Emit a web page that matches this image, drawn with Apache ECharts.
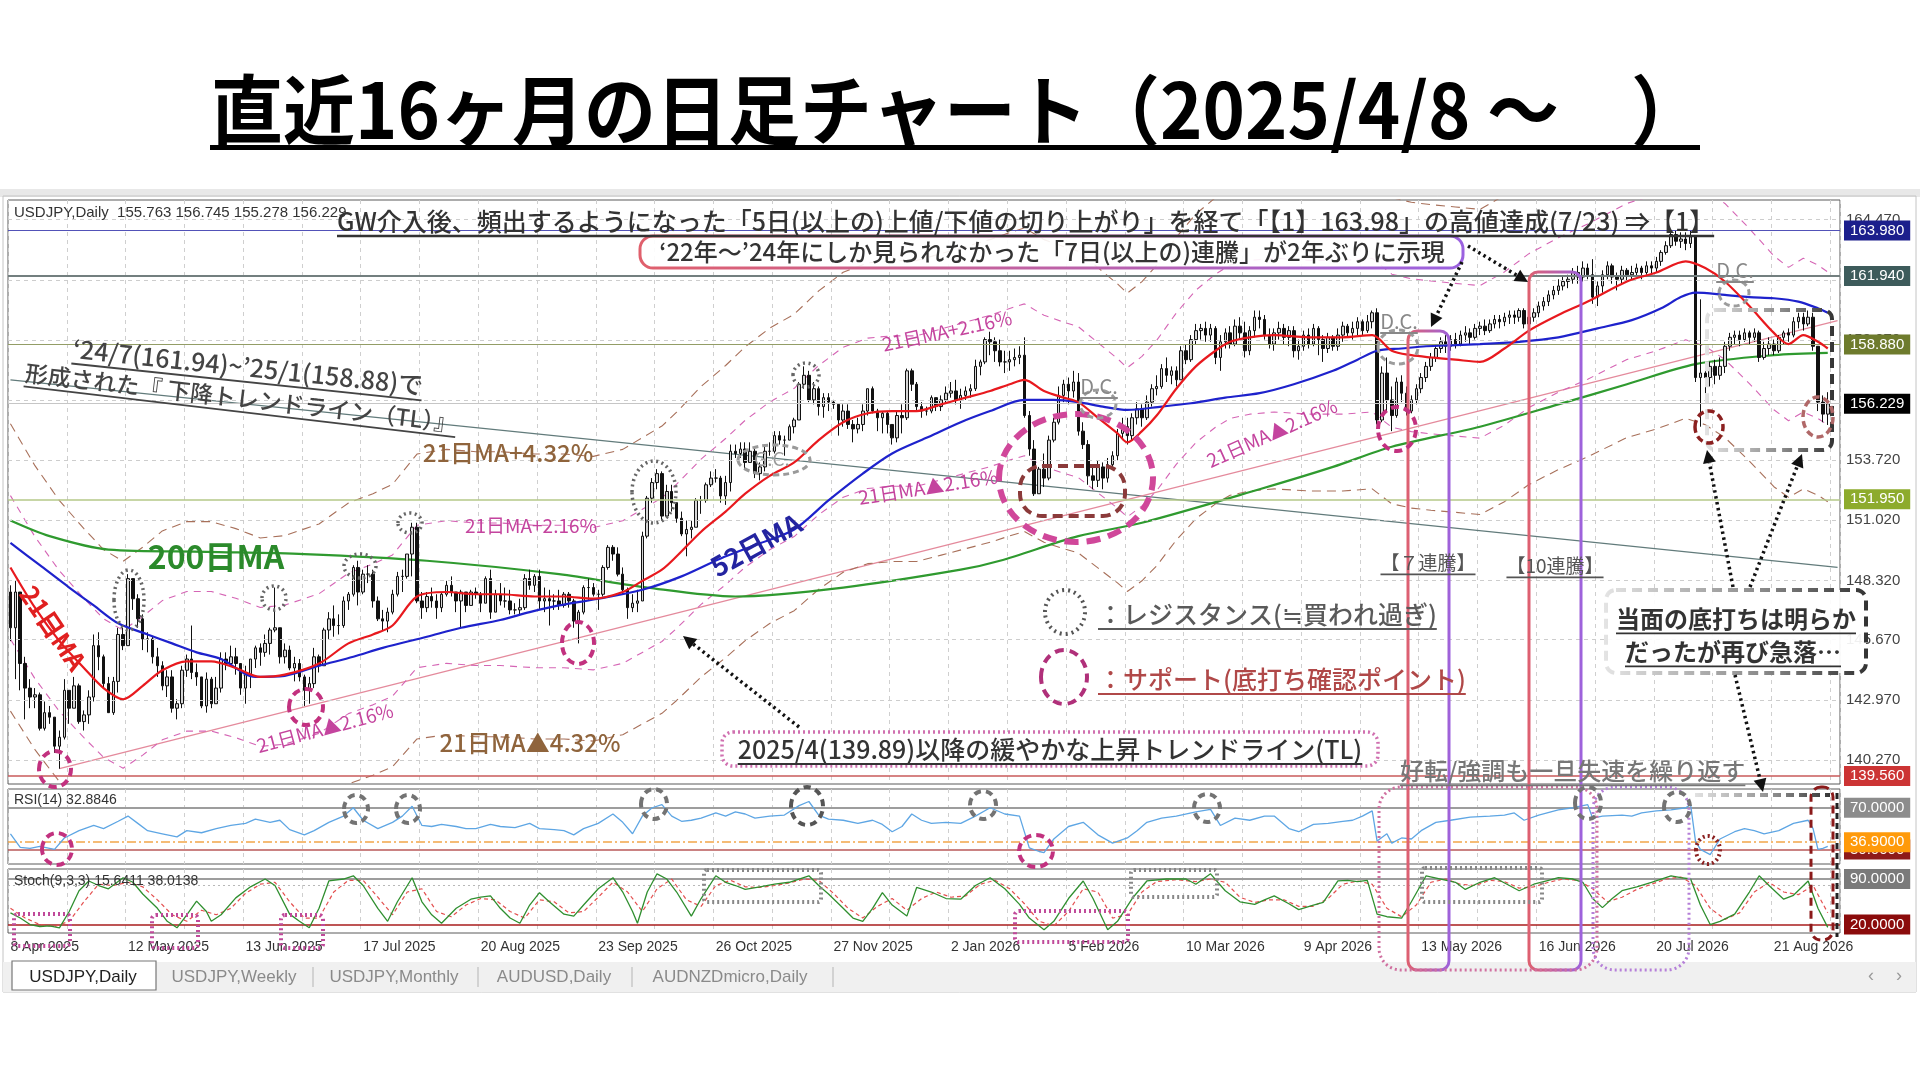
<!DOCTYPE html>
<html><head><meta charset="utf-8">
<script src="https://cdn.jsdelivr.net/npm/echarts@6/dist/echarts.min.js"></script>
<style>html,body{margin:0;padding:0;background:#fff;}#c{width:1920px;height:1080px;}</style>
</head><body><div id="c"></div>
<script>
// ---------------- DATA ----------------
const tickLabelsX = ['8 Apr 2025','12 May 2025','13 Jun 2025','17 Jul 2025','20 Aug 2025','23 Sep 2025','26 Oct 2025','27 Nov 2025','2 Jan 2026','5 Feb 2026','10 Mar 2026','9 Apr 2026','13 May 2026','16 Jun 2026','20 Jul 2026','21 Aug 2026'];
const priceTicks = [164.47,161.77,159.07,156.37,153.72,151.02,148.32,145.67,142.97,140.27];
const firstOpen = 147.8;
const closes = [
146.2,147.8,144.6,143.5,
143.1,143.2,141.7,142.4,142.2,
140.9,141.3,143.4,142.6,143.6,
142.0,142.3,143.1,145.4,144.9,
143.7,142.4,143.8,145.9,145.4,
148.4,147.5,146.6,145.7,145.7,
144.9,144.5,143.6,144.0,142.6,
142.8,144.3,144.8,144.2,144.0,
142.7,143.9,142.8,143.5,144.8,
144.6,144.9,144.6,143.5,144.1,
144.8,145.3,145.1,145.5,146.1,
146.2,144.9,145.2,144.4,144.6,
144.0,143.4,143.7,144.9,144.5,
146.1,146.6,146.3,146.3,147.4,
147.7,148.9,147.8,148.6,148.6,
147.4,146.6,146.5,146.9,147.7,
148.5,148.5,149.5,150.7,147.4,
147.1,147.6,147.4,147.1,147.7,
148.1,147.8,147.4,147.8,147.2,
147.8,147.7,147.3,148.4,146.9,
147.7,147.4,147.4,147.0,147.0,
147.1,148.4,148.1,148.5,147.4,
147.5,147.4,147.4,147.2,147.7,
147.4,146.5,146.9,148.0,148.0,
147.7,147.7,148.9,149.8,149.5,
148.6,147.9,147.1,147.3,147.4,
150.3,152.0,152.7,153.1,151.2,
152.3,151.8,151.1,150.4,150.6,
150.7,151.9,151.9,152.6,152.9,
152.9,152.1,152.7,154.1,154.0,
154.2,153.6,154.1,153.1,153.4,
154.1,154.1,154.8,154.6,154.6,
155.2,155.5,157.1,157.5,156.4,
156.9,156.1,156.5,156.3,156.2,
155.5,155.9,155.3,155.1,155.3,
155.9,156.9,155.9,155.6,155.8,
155.3,154.7,155.7,155.6,157.7,
157.1,156.1,155.9,155.9,156.5,
156.1,156.4,156.7,156.8,
156.4,156.6,156.8,156.9,157.9,
158.1,159.1,159.0,158.6,158.1,
158.1,158.2,158.3,158.4,155.7,
154.2,152.2,153.3,152.9,154.6,
155.4,156.6,157.1,156.8,157.2,
155.0,154.4,153.0,152.8,153.4,
152.9,153.5,153.9,154.9,155.2,
154.8,155.6,156.0,155.6,156.3,
156.9,157.0,157.8,157.5,157.7,
157.3,158.6,158.2,159.1,159.5,
159.6,159.3,159.6,158.3,159.0,
159.4,158.9,159.7,159.4,158.6,
159.5,160.1,160.0,159.3,158.9,
159.4,159.6,159.2,159.5,158.6,
158.8,159.3,158.9,159.6,159.1,
158.7,159.2,158.8,159.3,159.7,
159.4,159.6,159.9,159.5,159.9,
160.3,155.5,157.6,156.4,155.7,
157.2,156.7,155.9,156.4,156.9,
157.4,157.9,158.3,158.7,159.0,
158.8,159.1,158.9,159.3,159.4,
159.2,159.6,159.7,159.5,159.8,
160.0,159.9,160.1,160.2,160.1,
160.4,159.8,160.1,160.3,160.6,
160.8,161.1,161.3,161.5,161.7,
161.8,162.1,161.9,162.3,162.0,
161.0,161.5,162.0,162.4,161.9,
161.8,162.2,162.0,162.1,162.3,
162.1,162.4,162.3,162.6,163.0,
163.3,163.8,163.5,163.6,163.4,
163.7,157.4,157.6,157.4,157.9,
157.5,157.9,158.8,159.2,159.3,
159.1,159.4,159.2,159.4,158.3,
158.7,158.9,158.6,159.2,159.4,
159.3,159.9,160.1,159.8,160.1,
158.8,156.3,155.763,156.229];
const highs = [
148.1,148.3,147.8,144.9,
143.9,143.5,143.3,142.9,142.7,
142.1,141.6,143.9,143.4,144.0,
143.7,142.5,143.4,145.9,146.0,
145.0,144.0,144.0,146.2,146.2,
148.6,148.2,147.7,146.8,146.0,
145.8,145.3,144.7,144.3,144.3,
143.0,144.5,145.0,146.3,144.6,
144.0,144.2,144.0,144.0,145.1,
145.1,145.4,145.3,144.6,144.5,
144.8,145.4,145.5,145.9,146.2,
148.0,146.2,145.5,145.4,144.9,
144.8,144.1,144.0,145.3,145.0,
146.2,146.9,147.2,146.8,147.6,
147.8,149.0,149.2,148.8,149.0,
148.8,147.6,147.0,147.1,147.9,
148.7,148.8,149.5,150.9,150.9,
147.8,147.8,148.0,147.7,147.8,
148.3,148.5,147.8,147.9,147.8,
147.9,148.0,147.8,148.5,148.8,
147.9,148.2,148.0,147.9,147.3,
147.5,148.6,148.8,148.6,148.8,
148.0,147.9,147.7,147.9,147.8,
147.8,147.5,147.0,148.1,148.4,
148.2,147.9,149.0,149.9,149.9,
149.8,148.9,148.0,147.7,147.9,
150.5,152.1,152.9,153.3,153.2,
152.6,152.6,151.8,151.4,151.0,
151.0,152.0,152.1,152.7,153.2,
153.3,153.0,153.0,154.4,154.4,
154.5,154.5,154.5,154.2,153.6,
154.3,154.5,155.0,155.0,154.8,
155.3,155.6,157.2,157.9,157.7,
157.2,157.0,156.7,156.7,156.4,
156.2,156.2,156.2,155.5,155.6,
156.2,156.9,157.0,156.0,155.9,
155.9,155.3,155.9,156.2,157.8,
157.8,157.2,156.3,156.1,156.6,
156.5,156.6,157.0,157.2,
157.3,156.9,157.0,157.1,158.2,
158.2,159.2,159.45,159.2,159.1,
158.6,158.6,158.7,158.8,159.2,
155.9,154.6,153.4,154.0,154.8,
155.6,157.0,157.3,157.4,157.7,
157.6,155.4,154.6,153.5,153.7,
153.6,153.8,154.1,155.1,155.6,
155.6,155.8,156.3,156.2,156.6,
157.1,157.5,158.0,158.3,157.9,
157.9,158.8,158.9,159.3,159.8,
159.8,159.9,159.8,159.7,159.3,
159.6,159.7,160.0,160.1,159.9,
159.7,160.4,160.4,160.2,159.6,
159.6,159.9,159.8,159.7,159.7,
159.1,159.5,159.6,159.8,159.7,
159.3,159.4,159.3,159.6,159.9,
159.8,159.9,160.1,160.0,160.2,
160.4,160.5,157.9,158.3,157.0,
157.4,157.5,157.0,156.6,157.1,
157.6,158.1,158.5,158.9,159.2,
159.3,159.3,159.4,159.5,159.7,
159.6,159.8,159.9,160.0,160.0,
160.2,160.2,160.3,160.4,160.4,
160.5,160.5,160.3,160.5,160.8,
161.0,161.3,161.5,161.8,161.9,
162.0,162.3,162.4,162.6,162.5,
162.7,161.7,162.2,162.6,162.5,
162.1,162.4,162.3,162.4,162.5,
162.4,162.6,162.6,162.8,163.1,
163.5,163.9,163.98,163.9,163.9,
163.98,163.7,160.9,158.0,158.1,
158.2,158.3,159.0,159.4,159.5,
159.5,159.6,159.5,159.6,159.5,
159.0,159.2,159.1,159.3,159.5,
159.6,160.1,160.3,160.3,160.4,
160.3,158.8,156.6,156.745];
const lows = [
145.6,143.9,143.4,142.1,
142.6,142.6,141.6,141.6,141.9,
140.6,139.89,141.2,141.9,142.6,
141.9,141.6,141.9,142.9,144.3,
143.5,142.4,142.3,143.3,145.2,
145.5,147.0,146.2,145.2,145.1,
144.6,144.0,143.4,143.1,142.4,
142.1,142.6,144.0,143.9,143.6,
142.6,142.4,142.6,142.8,143.3,
144.3,144.5,144.1,143.2,142.8,
143.5,144.4,144.5,144.9,145.0,
146.0,144.6,144.6,144.3,143.8,
143.8,142.7,142.8,143.5,144.2,
144.6,145.7,145.8,145.9,146.2,
147.0,147.6,147.2,147.7,148.2,
147.1,146.5,146.1,146.0,146.8,
147.6,147.8,148.4,148.5,147.3,
146.6,146.9,147.1,146.6,146.9,
147.6,147.6,146.9,146.2,146.9,
147.2,147.5,146.9,147.3,146.6,
146.9,147.2,147.1,146.8,146.8,
146.8,147.0,147.9,147.8,147.0,
146.9,146.3,147.0,147.0,147.1,
147.1,146.2,145.5,146.8,147.4,
147.6,147.0,147.6,148.8,149.2,
148.5,147.7,146.6,146.9,146.9,
149.1,150.2,151.8,152.4,151.0,
151.5,151.4,150.9,150.3,149.4,
150.2,150.7,151.3,151.8,152.5,
152.7,151.8,151.7,152.3,153.8,
153.8,153.3,153.6,152.9,152.8,
153.2,153.9,154.0,154.4,153.9,
154.6,154.9,155.5,156.9,156.3,
156.2,155.7,155.6,155.9,156.0,
154.8,155.2,155.1,154.5,154.9,
155.0,155.7,155.8,155.0,154.9,
154.9,154.4,154.5,154.9,155.5,
156.8,155.9,155.6,155.7,155.8,
155.9,155.9,156.3,156.5,
156.2,156.0,156.4,156.5,156.8,
157.5,158.0,158.4,158.1,157.9,
157.6,157.7,157.9,158.0,155.6,
153.9,152.1,152.2,152.5,152.8,
154.5,155.3,156.3,156.2,156.5,
154.8,154.2,152.6,152.4,152.5,
152.4,152.7,153.3,153.7,154.6,
154.4,154.6,155.3,155.2,155.5,
156.1,156.6,156.9,157.2,157.1,
157.0,157.4,158.0,158.1,158.9,
159.1,159.0,159.0,158.0,157.7,
158.7,158.7,158.8,159.1,158.3,
158.4,159.2,159.6,159.1,158.7,
158.6,159.1,158.9,158.8,158.3,
158.2,158.6,158.7,158.8,158.4,
158.1,158.5,158.6,158.6,159.0,
159.2,159.1,159.3,159.3,159.4,
159.6,155.3,155.4,155.9,155.0,
155.6,156.3,155.7,155.8,156.2,
156.7,157.2,157.7,158.1,158.5,
158.5,158.6,158.7,158.8,159.0,
158.9,159.1,159.3,159.3,159.4,
159.6,159.6,159.7,159.8,159.8,
159.9,159.6,159.6,159.9,160.1,
160.4,160.6,160.9,161.1,161.3,
161.4,161.6,161.6,161.7,161.8,
160.7,160.6,161.2,161.8,161.6,
161.3,161.6,161.7,161.8,161.9,
161.8,162.0,162.0,162.1,162.4,
162.9,163.2,163.3,163.2,163.1,
163.2,157.2,155.2,156.7,157.0,
157.1,157.3,157.6,158.6,158.9,
158.8,159.0,158.9,159.0,158.1,
158.2,158.4,158.4,158.5,158.9,
159.0,159.2,159.6,159.5,159.7,
158.6,155.9,155.4,155.278];
const ma21 = [[0,148.9],[5,147.1],[10,145.6],[15,144.4],[19,143.5],[23,143.0],[27,143.6],[31,144.3],[36,144.7],[41,144.7],[46,144.4],[51,144.0],[56,144.1],[63,144.6],[69,145.5],[74,145.9],[78,146.3],[83,147.6],[89,147.8],[95,147.7],[100,147.7],[107,147.6],[113,147.6],[119,147.5],[125,147.8],[129,148.3],[133,148.8],[136,149.4],[141,150.5],[146,151.4],[150,152.2],[155,153.0],[160,153.6],[165,154.6],[170,155.4],[175,155.8],[180,155.9],[185,155.9],[190,156.2],[195,156.5],[200,156.8],[204,157.1],[207,157.3],[211,156.8],[215,156.5],[218,156.3],[222,155.6],[226,154.9],[228,154.5],[231,155.0],[234,155.7],[238,156.9],[242,157.9],[246,158.6],[249,159.0],[253,159.2],[258,159.3],[265,159.2],[272,159.2],[278,159.3],[282,158.6],[286,158.4],[290,158.3],[295,158.2],[300,158.1],[305,158.7],[310,159.5],[316,160.2],[322,160.8],[330,161.7],[336,162.1],[342,162.6],[346,162.3],[350,161.7],[355,160.6],[360,159.4],[363,158.9],[366,159.3],[369,159.0],[371,158.7]];
const ma52 = [[0,150.0],[6,149.0],[12,148.0],[17,147.2],[22,146.4],[28,145.9],[33,145.5],[38,145.1],[43,144.8],[50,144.0],[56,144.05],[63,144.5],[70,144.9],[76,145.3],[85,145.8],[92,146.2],[100,146.55],[106,146.9],[112,147.2],[120,147.5],[129,147.9],[137,148.5],[145,149.3],[152,149.9],[160,150.6],[167,151.9],[174,153.1],[180,154.0],[187,154.7],[194,155.4],[200,155.9],[207,156.4],[213,156.4],[218,156.3],[223,156.1],[228,155.95],[235,156.1],[241,156.25],[248,156.5],[255,156.7],[262,157.1],[270,157.7],[275,158.2],[279,158.6],[284,158.7],[289,158.8],[295,158.85],[300,158.9],[308,159.0],[316,159.2],[324,159.6],[331,159.97],[337,160.5],[341,161.0],[344,161.2],[350,161.1],[355,161.0],[360,160.95],[365,160.8],[369,160.5],[371,160.3]];
const ma200 = [[0,151.0],[8,150.3],[20,149.7],[40,149.6],[60,149.5],[85,149.2],[112,148.6],[130,148.0],[148,147.6],[170,148.0],[194,148.8],[202,149.2],[218,150.3],[231,150.9],[255,152.4],[270,153.4],[282,154.3],[300,155.2],[316,156.2],[330,157.1],[344,158.0],[360,158.4],[371,158.5]];
const envelopePct = [2.16, 4.32];
const downTrendline = [[0,157.3],[373,148.9]];
const upTrendline = [[10,139.9],[373,159.95]];
const levelValues = [163.98,161.94,158.88,156.229,151.95,139.56];
const rsi = [[0,45],[2,32],[4,31],[6,33],[9,30],[11,41],[14,48],[17,53],[19,50],[22,57],[24,62],[26,55],[28,48],[31,45],[34,42],[36,48],[39,46],[42,50],[45,53],[48,55],[50,59],[53,56],[55,58],[57,49],[60,44],[62,48],[65,56],[68,62],[70,70],[72,58],[75,50],[78,56],[80,62],[82,71.5],[84,53],[86,52],[88,54],[91,52],[93,50],[95,50],[98,54],[100,52],[103,51],[106,55],[108,50],[111,49],[113,48],[115,44],[117,50],[120,55],[123,64],[125,56],[127,45],[129,62],[131,70],[133,73],[135,62],[137,57],[139,58],[141,60],[144,65],[146,62],[148,66],[150,64],[152,60],[155,62],[158,63],[161,72],[163,76],[165,63],[167,59],[170,58],[173,55],[176,58],[178,54],[180,47],[182,52],[184,64],[186,58],[188,55],[191,56],[194,55],[197,62],[200,70],[203,64],[206,62],[208,31.5],[210,28],[211,27],[213,40],[216,52],[219,56],[222,44],[225,36],[228,41],[230,48],[232,56],[235,60],[238,62],[242,66],[245,68.5],[247,53],[250,60],[253,58],[256,62],[258,62],[261,50],[263,47],[266,54],[269,55],[272,57],[274,58],[276,62],[278,67],[279,38],[281,45],[282,36],[284,41],[286,40],[288,48],[291,56],[294,58],[298,61],[302,62],[305,63],[307,65],[309,58],[312,63],[316,68],[319,70],[321,72],[322,73],[323,60],[325,62],[329,63],[331,62],[333,65],[336,67],[339,68],[342,70],[343,73],[344,38],[345,30],[347,25],[349,40],[352,47],[354,50],[356,48],[358,45],[361,48],[364,55],[367,58],[368,50],[369,30],[370,31],[371,32.9]];
const rsiLevels = [30, 36.9, 70];
const stochK = [[0,38],[2,30],[4,20],[6,17],[8,18],[10,15],[12,40],[14,72],[16,87],[18,80],[20,75],[23,92],[25,85],[27,67],[30,45],[32,25],[34,15],[36,35],[38,56],[40,40],[41,25],[43,35],[46,61],[49,78],[52,90],[54,80],[57,36],[59,25],[61,15],[63,45],[65,87],[68,90],[70,95],[72,80],[75,45],[77,25],[79,55],[82,92],[84,55],[86,35],[88,22],[91,45],[94,59],[96,62],[98,64],[100,45],[102,30],[104,22],[106,50],[108,69],[110,55],[113,36],[115,33],[117,50],[120,75],[123,92],[125,70],[127,40],[128,22],[130,70],[132,98],[134,90],[136,70],[139,33],[141,60],[144,95],[146,85],[148,80],[150,74],[153,78],[156,82],[159,85],[161,90],[163,95],[165,80],[167,67],[170,45],[172,30],[174,25],[176,45],[178,69],[180,50],[183,33],[185,77],[188,70],[191,60],[194,59],[197,80],[200,92],[203,75],[206,51],[208,30],[211,12],[213,25],[216,60],[219,87],[221,60],[224,12],[226,25],[229,60],[232,87],[236,90],[240,90],[242,82],[245,98],[248,72],[251,55],[254,51],[256,58],[258,64],[261,52],[263,43],[266,50],[268,54],[271,87],[273,88],[275,86],[277,88],[279,36],[281,32],[284,30],[286,55],[289,95],[292,90],[295,85],[297,74],[300,85],[303,92],[306,80],[308,72],[311,82],[314,88],[316,92],[319,90],[321,85],[323,60],[325,46],[327,60],[329,72],[332,78],[335,85],[337,90],[339,95],[341,92],[343,90],[345,50],[347,20],[349,25],[352,36],[355,70],[357,95],[359,80],[362,59],[364,65],[367,87],[369,45],[371,15.6]];
const stochD = [[0,45],[3,30],[6,20],[9,17],[12,25],[15,55],[18,82],[21,80],[24,85],[27,78],[30,58],[33,35],[36,25],[39,42],[42,35],[45,45],[48,68],[51,82],[54,85],[57,55],[60,30],[63,30],[66,70],[69,88],[72,88],[75,62],[78,35],[81,70],[84,75],[87,40],[90,32],[93,50],[96,60],[99,58],[102,40],[105,30],[108,58],[111,55],[114,38],[117,40],[120,62],[123,85],[126,70],[129,40],[132,75],[135,90],[138,58],[141,48],[144,80],[147,88],[150,78],[153,77],[156,80],[159,84],[162,90],[165,88],[168,68],[171,45],[174,30],[177,48],[180,60],[183,42],[186,60],[189,70],[192,62],[195,64],[198,82],[201,88],[204,75],[207,52],[210,25],[213,18],[216,40],[219,75],[222,70],[225,30],[228,35],[231,70],[234,86],[238,89],[242,86],[245,90],[248,85],[251,62],[254,54],[257,58],[260,58],[263,48],[266,48],[269,60],[272,82],[275,87],[278,82],[281,45],[284,32],[287,50],[290,85],[293,90],[296,82],[299,80],[302,88],[305,86],[308,76],[311,78],[314,85],[317,90],[320,88],[323,75],[326,55],[329,62],[332,74],[335,82],[338,90],[341,93],[344,80],[347,45],[350,28],[353,38],[356,70],[359,85],[362,70],[365,66],[368,80],[371,38]];
const stochLevels = [80, 90, 20];

// ---------------- BUILD ----------------
const N = 374;
const cats = Array.from({length: N}, (_, i) => 'd' + i);
const candles = closes.map((c, i) => {
  const o = i === 0 ? firstOpen : closes[i - 1];
  return [o, c, Math.min(lows[i], o, c), Math.max(highs[i], o, c)];
});
const env = p => ma21.map(([i, v]) => [i, +(v * (1 + p / 100)).toFixed(3)]);

const NUMF = '"Liberation Sans", "DejaVu Sans", sans-serif';
const NARROW = '"Liberation Sans Narrow", "Liberation Sans", sans-serif';
const JP = '"Noto Sans CJK JP", "Noto Sans", sans-serif';

const levelStyle = [
  {line:'#5252b8', w:1.2, box:'#1c1f8c'},
  {line:'#737f7f', w:2,   box:'#3d5b5b'},
  {line:'#939d66', w:1.2, box:'#6e7b2d'},
  {line:'#c6c6c6', w:1.2, box:'#000000'},
  {line:'#b4c889', w:1.5, box:'#8dab2d'},
  {line:'#c85a5a', w:1.5, box:'#cc3434'}
];
const boxLabel = (bg, fmt) => ({show:true, position:'end', distance:4, formatter: fmt, color:'#fff', backgroundColor: bg, padding:[3,6,2,6], fontSize:15, fontFamily: NUMF});

const xAxisFor = (gi, labels) => ({
  type:'category', gridIndex: gi, data: cats, boundaryGap: true,
  axisLine:{show:false}, axisTick:{show:false},
  axisLabel: labels ? {show:true, interval:(i) => i % 24 === 0, formatter:(v, i) => tickLabelsX[i / 24] || '', align:'left', margin:7, color:'#333', fontSize:14, fontFamily: NUMF} : {show:false},
  splitLine:{show:true, interval:(i) => i % 12 === 0, lineStyle:{color:'#cfcfcf', type:[4,4], width:1}}
});
const yAxisFor = (gi, min, max) => ({type:'value', gridIndex: gi, min, max, position:'right', axisLine:{show:false}, axisTick:{show:false}, axisLabel:{show:false}, splitLine:{show:false}});

const series = [
  {type:'line', xAxisIndex:0, yAxisIndex:0, data:[[0,150],[1,150]], symbol:'none', lineStyle:{opacity:0}, silent:true, z:0,
   markLine:{symbol:['none','none'], silent:true, animation:false, lineStyle:{type:[4,4], color:'#cdcdcd', width:1},
     label:{position:'end', distance:6, formatter:p => p.value.toFixed(3), color:'#444', fontSize:15, fontFamily: NUMF},
     data: priceTicks.map(v => ({yAxis: v}))}},
  {type:'line', xAxisIndex:0, yAxisIndex:0, data: downTrendline, symbol:'none', lineStyle:{color:'#627b7b', width:1.3}, silent:true, z:2},
  {type:'line', xAxisIndex:0, yAxisIndex:0, data: upTrendline, symbol:'none', lineStyle:{color:'#e48a9c', width:1.3}, silent:true, z:2},
  {type:'line', xAxisIndex:0, yAxisIndex:0, data: env(envelopePct[1]), symbol:'none', lineStyle:{color:'#a8705a', width:1.1, type:[9,6]}, silent:true, z:2},
  {type:'line', xAxisIndex:0, yAxisIndex:0, data: env(-envelopePct[1]), symbol:'none', lineStyle:{color:'#a8705a', width:1.1, type:[9,6]}, silent:true, z:2},
  {type:'line', xAxisIndex:0, yAxisIndex:0, data: env(envelopePct[0]), symbol:'none', lineStyle:{color:'#d565b5', width:1.1, type:[7,6]}, silent:true, z:2},
  {type:'line', xAxisIndex:0, yAxisIndex:0, data: env(-envelopePct[0]), symbol:'none', lineStyle:{color:'#d565b5', width:1.1, type:[7,6]}, silent:true, z:2},
  {type:'line', xAxisIndex:0, yAxisIndex:0, data: ma200, symbol:'none', smooth:0.3, lineStyle:{color:'#2f9a2f', width:2.2}, silent:true, z:3},
  {type:'candlestick', xAxisIndex:0, yAxisIndex:0, data: candles, barWidth:3, silent:true, z:4,
   itemStyle:{color:'#d6d6d6', color0:'#111', borderColor:'#111', borderColor0:'#111', borderWidth:1}},
  {type:'line', xAxisIndex:0, yAxisIndex:0, data: ma52, symbol:'none', smooth:0.3, lineStyle:{color:'#1e22cc', width:2.2}, silent:true, z:5},
  {type:'line', xAxisIndex:0, yAxisIndex:0, data: ma21, symbol:'none', smooth:0.3, lineStyle:{color:'#e8191e', width:2.2}, silent:true, z:6},
  {type:'line', xAxisIndex:0, yAxisIndex:0, data:[[0,150],[1,150]], symbol:'none', lineStyle:{opacity:0}, silent:true, z:7,
   markLine:{symbol:['none','none'], silent:true, animation:false,
     data: levelValues.map((v, k) => ({yAxis: v, lineStyle:{color: levelStyle[k].line, width: levelStyle[k].w, type:'solid'}, label: boxLabel(levelStyle[k].box, v.toFixed(3))}))}},
  // RSI
  {type:'line', xAxisIndex:1, yAxisIndex:1, data: rsi, symbol:'none', lineStyle:{color:'#5ea6e4', width:1.3}, silent:true, z:5,
   markLine:{symbol:['none','none'], silent:true, animation:false, data:[
     {yAxis: rsiLevels[0], lineStyle:{color:'#b85858', width:1.5, type:'solid'}, label: boxLabel('#8e1a1a', rsiLevels[0].toFixed(4))},
     {yAxis: rsiLevels[1], lineStyle:{color:'#f2a64a', width:1.5, type:[9,3,2,3]}, label: boxLabel('#ff9a0a', rsiLevels[1].toFixed(4))},
     {yAxis: rsiLevels[2], lineStyle:{color:'#9d9d9d', width:2, type:'solid'}, label: boxLabel('#8c8c8c', rsiLevels[2].toFixed(4))}
   ]}},
  // Stochastic
  {type:'line', xAxisIndex:2, yAxisIndex:2, data: stochD, symbol:'none', lineStyle:{color:'#e45050', width:1.2, type:[4,3]}, silent:true, z:5},
  {type:'line', xAxisIndex:2, yAxisIndex:2, data: stochK, symbol:'none', lineStyle:{color:'#2f8f2f', width:1.3}, silent:true, z:6,
   markLine:{symbol:['none','none'], silent:true, animation:false, data:[
     {yAxis: stochLevels[0], lineStyle:{color:'#b8b8b8', width:1.2, type:[2,3]}, label:{show:false}},
     {yAxis: stochLevels[1], lineStyle:{color:'#9d9d9d', width:2, type:'solid'}, label: boxLabel('#7a7a7a', stochLevels[1].toFixed(4))},
     {yAxis: stochLevels[2], lineStyle:{color:'#a81c1c', width:1.5, type:'solid'}, label: boxLabel('#8b0b0b', stochLevels[2].toFixed(4))}
   ]}}
];

// ---------------- ANNOTATION HELPERS ----------------
const mctx = document.createElement('canvas').getContext('2d');
function measure(t, font) { mctx.font = font; return mctx.measureText(t).width; }
function txt(x, y, text, o = {}) {
  const size = o.size || 20, weight = o.weight || 'normal', fam = o.family || JP;
  const font = weight + ' ' + size + 'px ' + fam;
  const w = measure(text, font);
  const x0 = o.align === 'center' ? -w / 2 : (o.align === 'right' ? -w : 0);
  const z = o.z || 60;
  const ch = [{type:'text', z, style:{x:x0, y:0, text, font, fill:o.color || '#333', textAlign:'left', align:'left', textVerticalAlign:'middle', verticalAlign:'middle'}}];
  if (o.ul) ch.push({type:'line', z, shape:{x1:x0, y1:size * 0.6, x2:x0 + w, y2:size * 0.6}, style:{stroke:o.ulColor || o.color || '#333', lineWidth:o.ulw || 1.8}});
  return {type:'group', x, y, rotation:(o.rot || 0) * Math.PI / 180, scaleY: o.sy || 1, children: ch};
}
function ell(cx, cy, rx, ry, stroke, lw, dash, z) {
  return {type:'ellipse', z: z || 55, shape:{cx, cy, rx, ry}, style:{fill:'none', stroke, lineWidth: lw, lineDash: dash}};
}
function rrect(x, y, w, h, r, stroke, lw, dash, fill, z) {
  return {type:'rect', z: z || 55, shape:{x, y, width:w, height:h, r}, style:{fill: fill || 'none', stroke, lineWidth: lw, lineDash: dash || null}};
}
function arrow(x1, y1, x2, y2, o = {}) {
  const a = Math.atan2(y2 - y1, x2 - x1), L = o.head || 13, W = o.hw || 6.5;
  const bx = x2 - L * Math.cos(a), by = y2 - L * Math.sin(a);
  const col = o.color || '#111';
  return [
    {type:'line', z:62, shape:{x1, y1, x2:bx, y2:by}, style:{stroke:col, lineWidth:o.lw || 3.5, lineDash:[2.5,3.5]}},
    {type:'polygon', z:62, shape:{points:[[x2, y2], [bx - W * Math.sin(a), by + W * Math.cos(a)], [bx + W * Math.sin(a), by - W * Math.cos(a)]]}, style:{fill:col}}
  ];
}
const G = echarts.graphic;
const redPurple = () => new G.LinearGradient(0, 0, 1, 0, [{offset:0, color:'#e0606c'}, {offset:1, color:'#9b62e0'}]);
const grayFade = () => new G.LinearGradient(0, 0, 1, 0, [{offset:0, color:'#e4e4e4'}, {offset:0.6, color:'#8a8a8a'}, {offset:1, color:'#333'}]);

const resist = ['#666', 3.5, [2, 3.5]];
const support = ['#c2317f', 4, [8, 5]];
const dcStyle = ['#9c9c9c', 3, [6, 4]];
const rsiRes = ['#737373', 4, [7, 5]];

const graphics = [
  // page title
  txt(211, 110, '直近16ヶ月の日足チャート（2025/4/8 ～　）', {size:72, weight:'bold', color:'#000', z:80, sy:1.06}),
  {type:'rect', z:80, shape:{x:210, y:145, width:1490, height:5}, style:{fill:'#000'}},
  // window chrome
  {type:'rect', z:1, shape:{x:0, y:189, width:1920, height:8}, style:{fill:'#e8e8e8'}},
  {type:'rect', z:1, shape:{x:3, y:196, width:1913, height:796}, style:{fill:'none', stroke:'#c4c4c4', lineWidth:1}},
  {type:'rect', z:1, shape:{x:3, y:962, width:1913, height:30}, style:{fill:'#f0f0f0'}},
  {type:'rect', z:2, shape:{x:12, y:961, width:144, height:29}, style:{fill:'#fff', stroke:'#777', lineWidth:1.2}},
  txt(83, 977, 'USDJPY,Daily', {size:17, family: NARROW, color:'#222', align:'center'}),
  txt(234, 977, 'USDJPY,Weekly', {size:17, family: NARROW, color:'#8a8a8a', align:'center'}),
  txt(394, 977, 'USDJPY,Monthly', {size:17, family: NARROW, color:'#8a8a8a', align:'center'}),
  txt(554, 977, 'AUDUSD,Daily', {size:17, family: NARROW, color:'#8a8a8a', align:'center'}),
  txt(730, 977, 'AUDNZDmicro,Daily', {size:17, family: NARROW, color:'#8a8a8a', align:'center'}),
  ...[313, 478, 632, 833].map(x => ({type:'line', z:2, shape:{x1:x, y1:967, x2:x, y2:987}, style:{stroke:'#b4b4b4', lineWidth:1}})),
  txt(1871, 976, '‹', {size:18, color:'#999', align:'center', family: NUMF}),
  txt(1899, 976, '›', {size:18, color:'#999', align:'center', family: NUMF}),
  // panel headers
  txt(14, 213, 'USDJPY,Daily  155.763 156.745 155.278 156.229', {size:15, family: NARROW, color:'#333'}),
  txt(14, 800, 'RSI(14) 32.8846', {size:14, family: NARROW, color:'#333'}),
  txt(14, 881, 'Stoch(9,3,3) 15.6411 38.0138', {size:14, family: NARROW, color:'#333'}),
  // top annotations
  txt(337, 221, 'GW介入後、頻出するようになった「5日(以上の)上値/下値の切り上がり」を経て「【1】163.98」の高値達成(7/23) ⇒【1】', {size:25, weight:500, color:'#333', ul:true, ulw:2.5}),
  rrect(640, 236, 823, 32, 13, redPurple(), 3, null, 'rgba(255,255,255,0.9)', 58),
  txt(1052, 252, '‘22年～’24年にしか見られなかった「7日(以上の)連騰」が2年ぶりに示現', {size:24, weight:500, color:'#333', align:'center'}),
  txt(248, 367, '‘24/7(161.94)~’25/1(158.88)で', {size:25, weight:500, color:'#444', align:'center', rot:-6, ul:true}),
  txt(241, 398, '形成された『 下降トレンドライン（TL）』', {size:23, weight:500, color:'#444', align:'center', rot:-6.7, ul:true}),
  // MA labels
  txt(508, 453, '21日MA+4.32%', {size:24, weight:500, color:'#8f643c', align:'center'}),
  txt(531, 526, '21日MA+2.16%', {size:19, color:'#c4449e', align:'center'}),
  txt(325, 728, '21日MA▲2.16%', {size:19, color:'#c4449e', align:'center', rot:15}),
  txt(530, 743, '21日MA▲4.32%', {size:24, weight:500, color:'#8f643c', align:'center'}),
  txt(947, 331, '21日MA+2.16%', {size:19, color:'#c4449e', align:'center', rot:12}),
  txt(928, 487, '21日MA▲2.16%', {size:19, color:'#c4449e', align:'center', rot:9}),
  txt(1272, 433, '21日MA▲2.16%', {size:19, color:'#c4449e', align:'center', rot:24}),
  txt(216, 557, '200日MA', {size:32, weight:'bold', color:'#2b8a2b', align:'center'}),
  txt(53, 628, '21日MA', {size:26, weight:'bold', color:'#e02020', align:'center', rot:-56}),
  txt(756, 545, '52日MA', {size:27, weight:'bold', color:'#2424a0', align:'center', rot:29}),
  txt(1428, 563, '【７連騰】', {size:19, color:'#555', align:'center', ul:true}),
  txt(1555, 566, '【10連騰】', {size:19, color:'#555', align:'center', ul:true}),
  // legend
  ell(1065, 612, 20, 22, '#555', 4, [2, 4]),
  txt(1098, 614, '：レジスタンス(≒買われ過ぎ)', {size:25, weight:500, color:'#5a5a5a', ul:true}),
  ell(1064, 677, 23, 27, '#b0307a', 4, [9, 6]),
  txt(1098, 679, '：サポート(底打ち確認ポイント)', {size:25, weight:500, color:'#b04848', ul:true}),
  // uptrend box
  rrect(722, 732, 656, 34, 11, '#d070b0', 3.5, [2, 3], 'rgba(255,255,255,0.9)', 58),
  txt(1050, 749, '2025/4(139.89)以降の緩やかな上昇トレンドライン(TL)', {size:25, weight:500, color:'#333', align:'center', ul:true}),
  txt(1400, 771, '好転/強調も一旦失速を繰り返す', {size:24, weight:500, color:'#777', ul:true, z:64}),
  // right text box
  rrect(1606, 590, 260, 83, 10, grayFade(), 4, [10, 6], 'rgba(255,255,255,0.92)', 58),
  txt(1736, 619, '当面の底打ちは明らか', {size:24, weight:'bold', color:'#333', align:'center', ul:true}),
  txt(1733, 652, 'だったが再び急落…', {size:24, weight:'bold', color:'#333', align:'center', ul:true}),
  rrect(1707, 310, 125, 140, 9, grayFade(), 4, [10, 6]),
  // streak boxes
  rrect(1408, 331, 41, 639, 9, redPurple(), 3),
  rrect(1529, 272, 52, 698, 9, redPurple(), 3),
  rrect(1379, 787, 218, 183, 22, '#d070a0', 3, [2, 3]),
  rrect(1593, 787, 96, 183, 22, '#b57fd8', 3, [2, 3]),
  rrect(1811, 787, 22, 153, 10, '#8b1a1a', 3, [8, 5]),
  {type:'line', z:56, shape:{x1:1695, y1:795, x2:1830, y2:795}, style:{stroke: grayFade(), lineWidth:4, lineDash:[8, 5]}},
  {type:'line', z:56, shape:{x1:1837, y1:793, x2:1837, y2:937}, style:{stroke:'#222', lineWidth:3, lineDash:[6, 4]}},
  // resistance circles (main)
  ell(129, 600, 15, 30, ...resist), ell(274, 598, 12, 12, ...resist), ell(360, 566, 16, 12, ...resist),
  ell(410, 523, 12, 10, ...resist), ell(654, 492, 22, 31, ...resist), ell(806, 375, 13, 12, ...resist),
  ell(774, 460, 36, 15, '#9a9a9a', 3, [6, 4]),
  txt(772, 459, 'G.C.', {size:19, color:'#9a9a9a', align:'center'}),
  // support circles (main)
  ell(55, 769, 16, 18, ...support), ell(306, 707, 17, 18, ...support), ell(578, 643, 16, 21, ...support), ell(1397, 429, 19, 22, ...support),
  ell(1076, 478, 77, 64, '#d0479a', 6, [14, 8]),
  rrect(1020, 466, 105, 50, 22, '#8b3a3a', 4, [10, 6]),
  ell(1709, 427, 14, 16, '#8b2020', 3.5, [7, 4]),
  ell(1818, 417, 15, 20, '#b06868', 3.5, [7, 4]),
  // dead cross marks
  ell(1098, 404, 18, 14, ...dcStyle), txt(1099, 386, 'D.C.', {size:20, color:'#888', align:'center', ul:true}),
  ell(1398, 347, 20, 17, ...dcStyle), txt(1399, 321, 'D.C.', {size:20, color:'#888', align:'center', ul:true}),
  ell(1734, 293, 15, 13, ...dcStyle), txt(1735, 270, 'D.C.', {size:20, color:'#888', align:'center', ul:true}),
  // RSI circles
  ell(356, 809, 12, 14, ...rsiRes), ell(408, 809, 12, 14, ...rsiRes), ell(654, 804, 13, 15, ...rsiRes),
  ell(807, 806, 16, 19, '#555', 4, [7, 5]), ell(983, 805, 13, 14, ...rsiRes), ell(1207, 808, 13, 14, ...rsiRes),
  ell(1588, 803, 13, 16, ...rsiRes), ell(1677, 807, 13, 15, ...rsiRes),
  ell(57, 849, 15, 16, ...support), ell(1036, 851, 17, 16, ...support),
  ell(1708, 850, 12, 14, '#8b2020', 4, [2, 3]),
  // Stoch boxes
  rrect(14, 914, 56, 32, 4, '#c04a9a', 4, [2, 3]), rrect(152, 915, 46, 33, 4, '#c04a9a', 4, [2, 3]),
  rrect(281, 915, 42, 33, 4, '#c04a9a', 4, [2, 3]), rrect(1015, 911, 113, 31, 4, '#c04a9a', 4, [2, 3]),
  rrect(704, 870, 117, 32, 3, '#888', 4, [2, 3]), rrect(1131, 870, 86, 27, 3, '#888', 4, [2, 3]),
  rrect(1422, 868, 120, 34, 3, '#888', 4, [2, 3]),
  // arrows
  ...arrow(1468, 246, 1528, 282), ...arrow(1462, 262, 1431, 327),
  ...arrow(799, 727, 683, 636), ...arrow(1733, 587, 1707, 450),
  ...arrow(1750, 587, 1802, 454), ...arrow(1735, 675, 1763, 792)
];

const chart = echarts.init(document.getElementById('c'), null, {renderer:'canvas', width:1920, height:1080});
chart.setOption({
  animation:false,
  backgroundColor:'#ffffff',
  grid:[
    {left:8, top:200, width:1832, height:584, show:true, borderColor:'#5a5a5a', borderWidth:1, backgroundColor:'#fff'},
    {left:8, top:789, width:1832, height:75, show:true, borderColor:'#5a5a5a', borderWidth:1, backgroundColor:'#fff'},
    {left:8, top:869, width:1832, height:64, show:true, borderColor:'#5a5a5a', borderWidth:1, backgroundColor:'#fff'}
  ],
  xAxis:[xAxisFor(0, false), xAxisFor(1, false), xAxisFor(2, true)],
  yAxis:[yAxisFor(0, 139.207, 165.347), yAxisFor(1, 16, 88), yAxisFor(2, 7, 105.4)],
  series,
  graphic:{elements: graphics}
});
</script></body></html>
